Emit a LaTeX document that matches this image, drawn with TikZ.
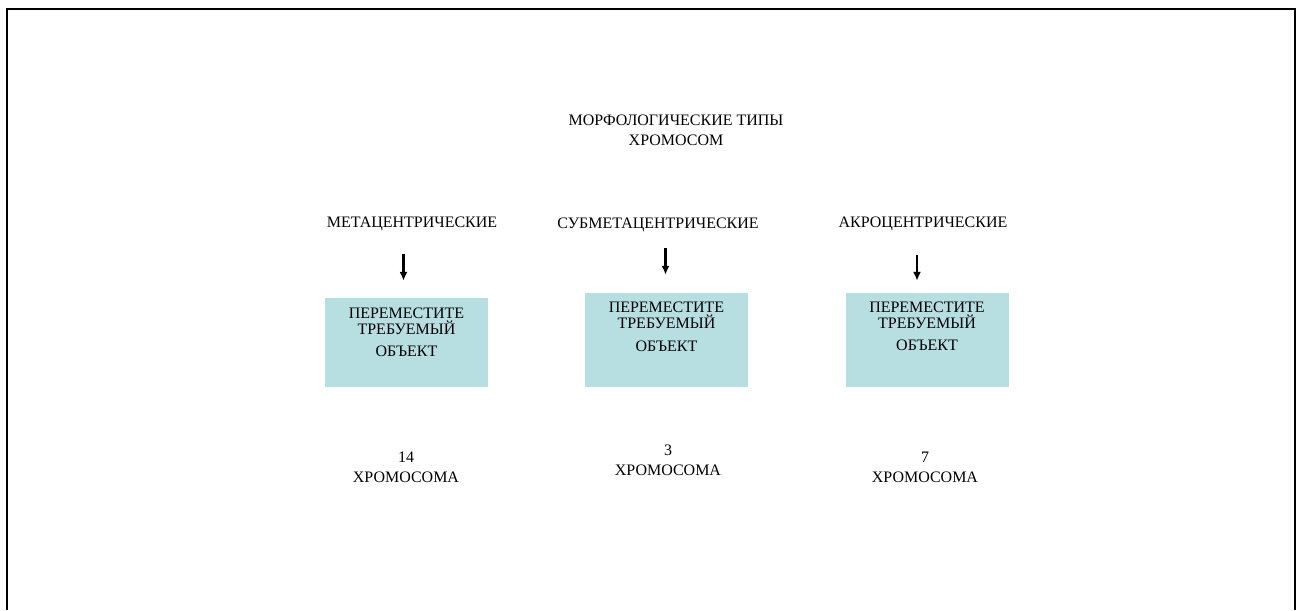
\documentclass[tikz,border=0pt]{standalone}
\usepackage{fontspec}
\setmainfont{Liberation Serif}
\definecolor{boxcyan}{RGB}{183,222,225}
\usepackage{tikz}
\usetikzlibrary{arrows.meta,positioning,calc}

\begin{document}
\begin{tikzpicture}[x=0.02cm,y=-0.02cm,
  txt/.style={inner sep=0pt,align=center,font=\fontsize{9.1}{11.3}\selectfont},
  box/.style={rectangle,fill=boxcyan,inner sep=0pt,minimum width=163*0.02cm},
  boxtxt/.style={inner sep=0pt,align=center,font=\fontsize{9.1}{9.4}\selectfont},
  arr/.style={-{Latex[length=5pt,width=4.6pt]},line width=1.2pt}
]
  \useasboundingbox (0,0) rectangle (1302,610);
  \draw[line width=1.1pt] (7,610) -- (7,9) -- (1295,9) -- (1295,610);

  \node[txt] (title) at (676,130) {МОРФОЛОГИЧЕСКИЕ ТИПЫ\\ХРОМОСОМ};

  \node[txt] (lab1) at (412,224) {МЕТАЦЕНТРИЧЕСКИЕ};
  \node[txt] (lab2) at (658,225) {СУБМЕТАЦЕНТРИЧЕСКИЕ};
  \node[txt] (lab3) at (923,224) {АКРОЦЕНТРИЧЕСКИЕ};

  % ---------------- boxes ----------------
  \node[box,minimum height=89*0.02cm] (m1) at (406.5,342.5) {};
  \node[box,minimum height=94*0.02cm] (m2) at (666.5,340) {};
  \node[box,minimum height=94*0.02cm] (m3) at (927,340) {};

  \node[boxtxt,below=5.5pt of m1.north] (t1) {ПЕРЕМЕСТИТЕ\\ТРЕБУЕМЫЙ\\[3pt]ОБЪЕКТ};
  \node[boxtxt,below=5pt of m2.north] (t2) {ПЕРЕМЕСТИТЕ\\ТРЕБУЕМЫЙ\\[3.6pt]ОБЪЕКТ};
  \node[boxtxt,below=5pt of m3.north] (t3) {ПЕРЕМЕСТИТЕ\\ТРЕБУЕМЫЙ\\[3pt]ОБЪЕКТ};

  \node[txt] (n1) at (406,467) {14\\ХРОМОСОМА};
  \node[txt] (n2) at (668,460) {3\\ХРОМОСОМА};
  \node[txt] (n3) at (925,467) {7\\ХРОМОСОМА};

  \draw[arr] ($(lab1.south -| m1.north)+(-3,23)$) -- ($(m1.north)+(-3,-17)$);
  \draw[arr] ($(lab2.south -| m2.north)+(-1,16)$) -- ($(m2.north)+(-1,-18)$);
  \draw[arr] ($(lab3.south -| m3.north)+(-10,24)$) -- ($(m3.north)+(-10,-12)$);
\end{tikzpicture}
\end{document}
